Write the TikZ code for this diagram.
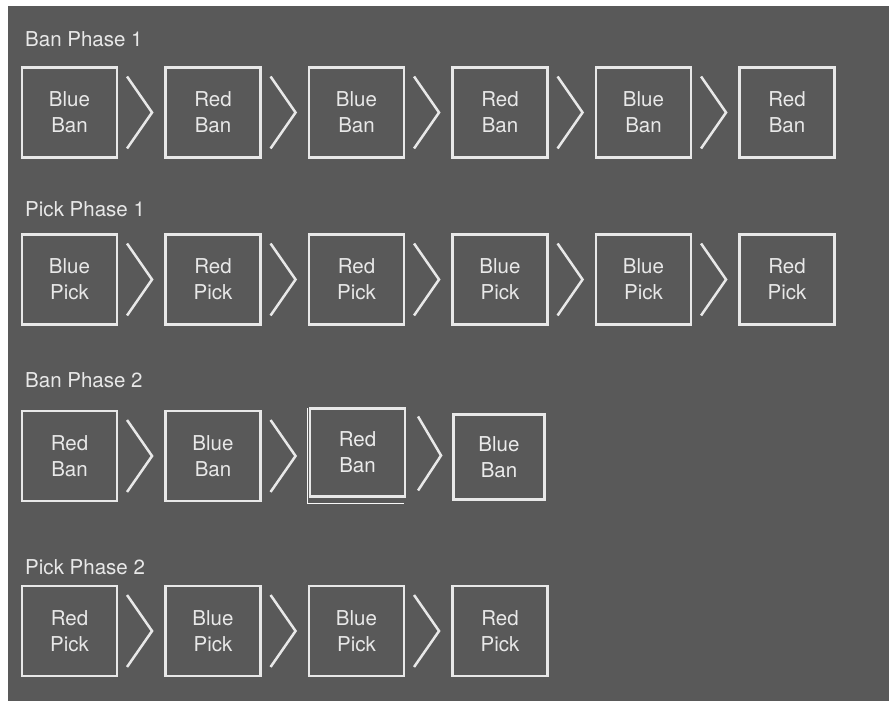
\documentclass[tikz,border=0pt]{standalone}
\usepackage{fontspec}
\setmainfont{TeX Gyre Heros}
\usetikzlibrary{positioning, calc}
\definecolor{panelgray}{HTML}{595959}
\definecolor{linegray}{HTML}{E8E8E8}

\begin{document}
\begin{tikzpicture}[x=1pt, y=-1pt, font=\fontsize{20.5}{26}\selectfont,
	slot/.style={draw=linegray, line width=2.1pt, text=linegray, align=center,
		minimum width=95pt, minimum height=90pt, inner sep=0pt},
	chev/.style={draw=linegray, line width=2.5pt},
	phase/.style={text=linegray, anchor=base west, inner sep=0pt}]
	
	\useasboundingbox (0,0) rectangle (889,703);
	\fill[panelgray] (8,6) rectangle (889,701);
	
	% 1. Ban Phase 1 (six slots)
	\node[phase] (banA) at (25,47) {Ban Phase 1};
	\foreach \team/\act [count=\i] in {Blue/Ban, Red/Ban, Blue/Ban, Red/Ban, Blue/Ban, Red/Ban} {
		\node[slot] (banA\i) at (69.5+143.5*\i-143.5, 112.5) {\team\\\act};
		\ifnum\i>1
			\pgfmathtruncatemacro\j{\i-1}
			\draw[chev] ($(banA\j.east)+(9,-36)$) -- ($(banA\j.east)+(34,0)$) -- ($(banA\j.east)+(9,36)$);
		\fi
	}
	
	% 2. Pick Phase 1 (six slots)
	\node[phase] (pickA) at (25,217) {Pick Phase 1};
	\foreach \team/\act [count=\i] in {Blue/Pick, Red/Pick, Red/Pick, Blue/Pick, Blue/Pick, Red/Pick} {
		\node[slot] (pickA\i) at (69.5+143.5*\i-143.5, 279.5) {\team\\\act};
		\ifnum\i>1
			\pgfmathtruncatemacro\j{\i-1}
			\draw[chev] ($(pickA\j.east)+(9,-36)$) -- ($(pickA\j.east)+(34,0)$) -- ($(pickA\j.east)+(9,36)$);
		\fi
	}
	
	% 3. Ban Phase 2 (four slots, last two sit slightly off)
	\node[phase] (banB) at (25,388) {Ban Phase 2};
	\node[slot] (banB1) at (69.5,456) {Red\\Ban};
	\node[slot] (banB2) at (213,456) {Blue\\Ban};
	\draw[linegray!30, line width=0.8pt] (307,408) -- (307,503) -- (404,503);
	\node[slot, minimum height=88pt, text=linegray!85] (banB3) at (357.5,452.5) {Red\\Ban};
	\node[slot, minimum width=91pt, minimum height=85pt, text=linegray!85] (banB4) at (499,457) {Blue\\Ban};
	\foreach \j in {1,2} {
		\draw[chev] ($(banB\j.east)+(9,-36)$) -- ($(banB\j.east)+(34,0)$) -- ($(banB\j.east)+(9,36)$);
	}
	\draw[chev] ($(banB3.east)+(12,-36)$) -- ($(banB3.east)+(35,3)$) -- ($(banB3.east)+(12,38)$);
	
	% 4. Pick Phase 2 (four slots)
	\node[phase] (pickB) at (25,574) {Pick Phase 2};
	\foreach \team/\act [count=\i] in {Red/Pick, Blue/Pick, Blue/Pick, Red/Pick} {
		\node[slot] (pickB\i) at (69.5+143.5*\i-143.5, 631) {\team\\\act};
		\ifnum\i>1
			\pgfmathtruncatemacro\j{\i-1}
			\draw[chev] ($(pickB\j.east)+(9,-36)$) -- ($(pickB\j.east)+(34,0)$) -- ($(pickB\j.east)+(9,36)$);
		\fi
	}
	
\end{tikzpicture}
\end{document}
